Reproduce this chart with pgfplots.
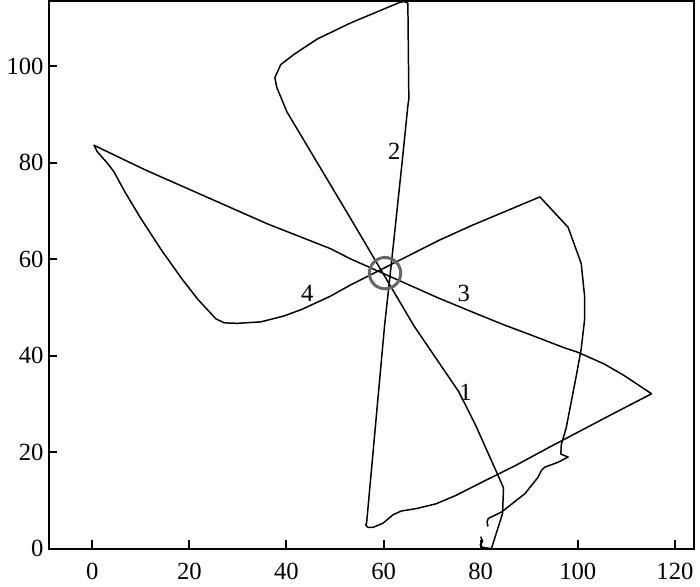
\documentclass[border=0pt]{standalone}
\usepackage{fontspec}
\setmainfont{Liberation Serif}
\usepackage{pgfplots}
\pgfplotsset{compat=1.18}

\begin{document}
\begin{tikzpicture}[font=\fontsize{12.5}{15}\selectfont]
\begin{axis}[
    scale only axis,
    width=326bp, height=276.5bp,
    xmin=-9, xmax=124,
    ymin=0, ymax=113.5,
    xtick={0,20,...,120},
    ytick={0,20,...,100},
    xtick pos=bottom, ytick pos=left,
    tick align=inside,
    major tick length=4.5bp,
    axis line style={line width=1bp},
    tick style={black, line width=1bp},
    /pgf/number format/assume math mode=true,
    ticklabel style={font=\fontsize{12.5}{15}\selectfont},
    xticklabel style={yshift=-4bp},
    yticklabel style={xshift=1bp},
    clip=false,
]
% trajectory, one continuous run
\addplot[black, line width=0.75bp, line join=round] coordinates {
    (80.0,2.5) (80.4,1.5) (79.9,0.8) (80.4,0.3) (82.2,0)
    (84.5,7.3) (84.7,12.6) (83.3,15.8) (78.9,25.7) (75.5,32.5)
    (66.3,46.1) (53.1,68.6) (40.1,90.5) (38.0,95.6) (37.6,97.6)
    (38.8,100.3) (41.5,102.4) (46.3,105.6) (53.1,108.9) (63.3,113.2)
    (64.3,113.4) (65.0,113.0) (65.2,93.2) (65.0,91.8) (63.9,80.9)
    (61.6,59.1) (60.2,46.2) (56.5,5.3) (56.3,4.9) (56.8,4.4)
    (57.8,4.4) (59.9,5.3) (61.9,7.0) (63.6,7.8) (66.7,8.3)
    (70.8,9.3) (74.8,11.0) (80.3,13.8) (87.1,17.2) (93.9,20.9)
    (107.5,28.1) (115.2,32.1) (109.5,35.9) (105.4,38.3) (100.0,40.7)
    (97.3,41.6) (89.8,44.5) (85.0,46.3) (79.6,48.5) (71.4,51.9)
    (53.1,60.1) (49.0,62.2) (36.1,67.3) (10.9,78.5) (0.35,83.6)
    (1.0,82.3) (3.1,79.9) (4.4,78.2) (6.8,73.8) (9.9,68.6)
    (14.3,61.8) (18.4,56.0) (21.8,51.6) (25.5,47.6) (27.2,46.8)
    (29.9,46.7) (34.7,47.0) (39.4,48.2) (43.2,49.6) (44.9,50.4)
    (49.0,52.3) (53.1,54.6) (71.4,63.9) (78.2,67.0) (92.2,72.9)
    (98.0,66.6) (100.7,59.1) (101.4,52.3) (101.4,47.5) (100.7,41.4)
    (99.7,35.9) (97.6,25.0) (96.6,21.6) (96.5,19.6) (98.0,19.0)
    (95.9,17.9) (93.2,16.9) (92.5,16.2) (91.8,14.8) (89.1,11.4)
    (84.3,7.6) (81.6,6.3) (81.3,5.6) (81.5,4.6)
};
% start point circle
\addplot[only marks, mark=o, mark size=7.9bp,
    mark options={draw=black!60, line width=1.5bp}] coordinates {(60.3,57.1)};
\node at (axis cs:76.9,32.3) {1};
\node at (axis cs:62.2,82.3) {2};
\node at (axis cs:76.5,52.9) {3};
\node at (axis cs:44.3,52.9) {4};
\end{axis}
\end{tikzpicture}
\end{document}
